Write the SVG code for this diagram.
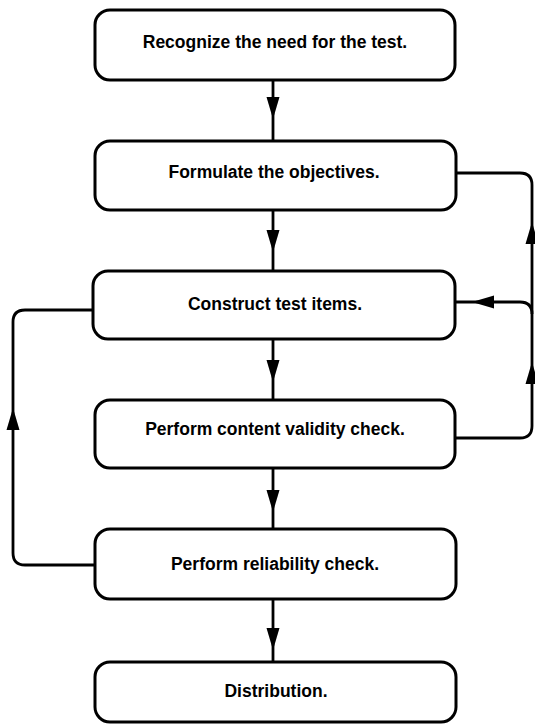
<svg xmlns="http://www.w3.org/2000/svg" xmlns:xlink="http://www.w3.org/1999/xlink" width="535" height="725" viewBox="0 0 535 725">
<style>
.box{fill:#fff;stroke:#000;stroke-width:3}
.lbl{font-family:"Liberation Sans",Arial,sans-serif;font-weight:bold;font-size:17.5px;fill:#000;text-anchor:middle}
.con{fill:none;stroke:#000;stroke-width:2.8}
</style>
<defs>
<polygon id="ah" points="0,0 -6.5,-22 6.5,-22" fill="#000"/>
</defs>
<rect width="535" height="725" fill="#fff"/>
<g id="connectors">
<path class="con" d="M273,80 V141"/>
<path class="con" d="M273,210 V271"/>
<path class="con" d="M273,339 V400"/>
<path class="con" d="M273,468 V529"/>
<path class="con" d="M273,599 V662"/>
<path class="con" d="M455,438 H520 Q532,438 532,426 V185 Q532,173 520,173 H456"/>
<path class="con" d="M455,302 H520 Q532,302 532,314"/>
<path class="con" d="M95,565 H25 Q13,565 13,553 V322 Q13,310 25,310 H93"/>
<use xlink:href="#ah" transform="translate(273,119)"/>
<use xlink:href="#ah" transform="translate(273,252)"/>
<use xlink:href="#ah" transform="translate(273,382)"/>
<use xlink:href="#ah" transform="translate(273,512)"/>
<use xlink:href="#ah" transform="translate(273,650)"/>
<use xlink:href="#ah" transform="translate(532,222) rotate(180)"/>
<use xlink:href="#ah" transform="translate(532,362) rotate(180)"/>
<use xlink:href="#ah" transform="translate(472,302) rotate(90)"/>
<use xlink:href="#ah" transform="translate(13,408) rotate(180)"/>
</g>
<g id="n1"><rect class="box" x="95" y="10" width="360" height="70" rx="15"/><text class="lbl" x="275" y="48">Recognize the need for the test.</text></g>
<g id="n2"><rect class="box" x="95" y="141" width="361" height="69" rx="15"/><text class="lbl" x="274" y="178">Formulate the objectives.</text></g>
<g id="n3"><rect class="box" x="93" y="271" width="362" height="68" rx="15"/><text class="lbl" x="275" y="310">Construct test items.</text></g>
<g id="n4"><rect class="box" x="95" y="400" width="360" height="68" rx="15"/><text class="lbl" x="275" y="435">Perform content validity check.</text></g>
<g id="n5"><rect class="box" x="95" y="529" width="361" height="70" rx="15"/><text class="lbl" x="275" y="570">Perform reliability check.</text></g>
<g id="n6"><rect class="box" x="95" y="662" width="361" height="60" rx="15"/><text class="lbl" x="276" y="697">Distribution.</text></g>
</svg>
